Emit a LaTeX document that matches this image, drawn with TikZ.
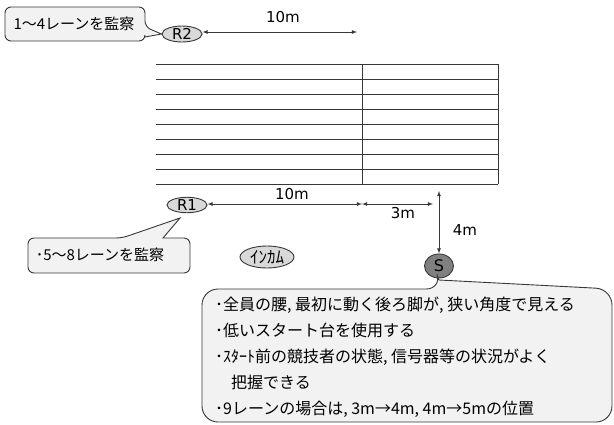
\documentclass[tikz,border=0pt]{standalone}
\usepackage{fontspec}
\setmainfont{Noto Sans CJK JP}
\newfontfamily\labelfont{DejaVu Sans}
\usetikzlibrary{shapes.geometric}
\definecolor{judgefill}{RGB}{217,217,217}
\definecolor{startfill}{RGB}{128,128,128}
\definecolor{notefill}{RGB}{242,242,242}
\definecolor{linegray}{RGB}{55,55,55}

\begin{document}
\begin{tikzpicture}[x=1pt,y=-1pt,>=latex,
    judge/.style={ellipse,draw=linegray,fill=judgefill,line width=0.9pt,inner sep=0pt,font=\labelfont\fontsize{15}{15}\selectfont},
    note/.style={draw=linegray,fill=notefill,line width=0.9pt},
    notetext/.style={inner sep=0pt,font=\fontsize{15}{15}\selectfont},
    dist/.style={inner sep=0pt,font=\labelfont\fontsize{15}{15}\selectfont}]
        \useasboundingbox (0,0) rectangle (614,424);
        % lanes
        \foreach \y in {0,...,8}{
            \draw[linegray,line width=0.8pt] (156,64+15*\y) -- (498,64+15*\y);}
        \draw[linegray,line width=0.8pt] (362,64) -- (362,184) (498,64) -- (498,184);
        % judges and start
        \node[judge,minimum width=40pt,minimum height=16pt] (r2) at (182,34) {R2};
        \node[judge,minimum width=40pt,minimum height=15pt] (r1) at (187,205) {R1};
        \node[judge,minimum width=54pt,minimum height=22pt,font=\fontsize{17}{17}\selectfont] (inkam) at (267,257) {ｲﾝｶﾑ};
        \node[judge,fill=startfill,minimum width=29pt,minimum height=24pt,font=\labelfont\fontsize{16}{16}\selectfont] (s) at (439,266) {S};
        % distances
        \coordinate (r2end) at (357,32);
        \coordinate (finish) at (362,204);
        \coordinate (side) at (433,204);
        \coordinate (lanes) at (439,191);
        \draw[<->,linegray,line width=0.8pt] (r2.east |- r2end) -- (r2end);
        \draw[<->,linegray,line width=0.8pt] (r1.east |- finish) -- (finish);
        \draw[<->,linegray,line width=0.8pt] (finish) -- (side);
        \draw[<->,linegray,line width=0.8pt] (lanes) -- (s);
        \node[dist] (d10top) at (283,17) {10m};
        \node[dist] (d10) at (292,194) {10m};
        \node[dist] (d3) at (403,213) {3m};
        \node[dist] (d4) at (465,230) {4m};
        % callouts
        \draw[note,rounded corners=6pt] (5,7) -- (145,7) -- (145,27) [sharp corners] -- (r2.west) -- (145,37) [rounded corners=6pt] -- (145,41) -- (5,41) -- cycle;
        \draw[note,rounded corners=6pt] (28,273) -- (28,238) -- (122,238) [sharp corners] -- (180,218) -- (163,238) [rounded corners=6pt] -- (190,238) -- (190,273) -- cycle;
        \draw[note,rounded corners=16pt] (202,422) -- (202,289) -- (442,289) [sharp corners] -- (439,280) [rounded corners=16pt] -- (612,289) -- (612,422) -- cycle;
        \node[notetext] (lane14) at (74,24) {1～4レーンを監察};
        \node[notetext] (lane58) at (100,255) {･5～8レーンを監察};
        \node[notetext,align=left,anchor=north west,font=\fontsize{16}{26}\selectfont] (points) at (215,297) {･全員の腰, 最初に動く後ろ脚が, 狭い角度で見える\\･低いスタート台を使用する\\･ｽﾀｰﾄ前の競技者の状態, 信号器等の状況がよく\\\hspace*{1em}把握できる\\･9レーンの場合は, 3m→4m, 4m→5mの位置};
      \end{tikzpicture}
\end{document}
